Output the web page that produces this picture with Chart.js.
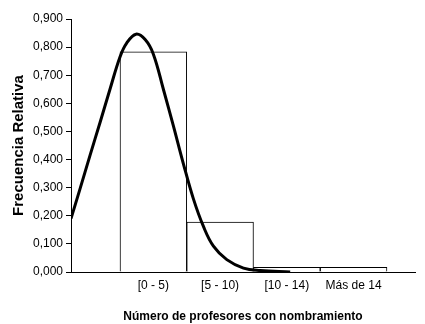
<!DOCTYPE html>
<html>
<head>
<meta charset="utf-8">
<script src="https://cdn.jsdelivr.net/npm/chart.js@4"></script>
<style>
  html, body { margin: 0; padding: 0; background: #fff; }
  #wrap { width: 425px; height: 324px; }
</style>
</head>
<body>
<div id="wrap"><canvas id="histCanvas"></canvas></div>
<script>
// categorias del histograma
const categories = ['[0 - 5)', '[5 - 10)', '[10 - 14)', 'Más de 14'];
const categoryPos = [1.5, 2.5, 3.5, 4.5];
const relFreq = [0.783, 0.178, 0.017, 0.017];

// curva normal
const curveX = [0.266, 0.40, 0.55, 0.70, 0.85, 1.00, 1.10, 1.24, 1.38, 1.50,
                1.65, 1.80, 1.95, 2.10, 2.25, 2.40, 2.60, 2.85, 3.10, 3.55];
const curveY = [0.190, 0.295, 0.414, 0.531, 0.650, 0.765, 0.814, 0.846, 0.826, 0.775,
                0.650, 0.520, 0.385, 0.260, 0.162, 0.092, 0.044, 0.014, 0.005, 0.000];

const yTicks = [0, 0.1, 0.2, 0.3, 0.4, 0.5, 0.6, 0.7, 0.8, 0.9];

const fontFamily = '"Liberation Sans", Arial, sans-serif';

const ctx = document.getElementById('histCanvas').getContext('2d');

new Chart(ctx, {
    type: 'bar',
    data: {
        datasets: [
            {
                type: 'line',
                data: curveX.map((x, i) => ({ x: x, y: curveY[i] })),
                borderColor: '#000',
                borderWidth: 3,
                pointRadius: 0,
                tension: 0.4,
                fill: false,
                order: 0
            },
            {
                data: categoryPos.map((x, i) => ({ x: x, y: relFreq[i] })),
                backgroundColor: '#fff',
                borderColor: '#000',
                borderWidth: 1,
                barPercentage: 1,
                categoryPercentage: 1,
                order: 1
            }
        ]
    },
    options: {
        responsive: true,
        maintainAspectRatio: false,
        animation: false,
        layout: { padding: { left: 0, top: 19, right: 10, bottom: 0 } },
        plugins: {
            legend: { display: false },
            tooltip: { enabled: false }
        },
        scales: {
            x: {
                type: 'linear',
                min: 0.266,
                max: 5.42,
                offset: false,
                grid: { display: false, drawTicks: false },
                border: { display: true, color: '#000', width: 1 },
                afterBuildTicks: scale => {
                    scale.ticks = categoryPos.map(v => ({ value: v }));
                },
                afterFit: scale => { scale.height = 52; },
                ticks: {
                    padding: 6,
                    color: '#000',
                    font: { family: fontFamily, size: 12 },
                    maxRotation: 0,
                    autoSkip: false,
                    callback: (v) => {
                        const i = categoryPos.indexOf(v);
                        return i >= 0 ? categories[i] : '';
                    }
                },
                title: {
                    display: true,
                    text: 'Número de profesores con nombramiento',
                    color: '#000',
                    font: { family: fontFamily, size: 12, weight: 'bold' },
                    padding: { top: 4, bottom: 0 }
                }
            },
            y: {
                min: 0,
                max: 0.9,
                afterBuildTicks: scale => {
                    scale.ticks = yTicks.map(v => ({ value: v }));
                },
                afterFit: scale => { scale.width = 71; },
                grid: {
                    drawOnChartArea: false,
                    drawTicks: true,
                    tickLength: 5,
                    color: '#000'
                },
                border: { display: true, color: '#000', width: 1 },
                ticks: {
                    padding: 3,
                    color: '#000',
                    font: { family: fontFamily, size: 12 },
                    callback: v => v.toFixed(3).replace('.', ',')
                },
                title: {
                    display: true,
                    text: 'Frecuencia Relativa',
                    color: '#000',
                    font: { family: fontFamily, size: 15, weight: 'bold' },
                    padding: { top: 10, bottom: 0 }
                }
            }
        }
    }
});
</script>
</body>
</html>
